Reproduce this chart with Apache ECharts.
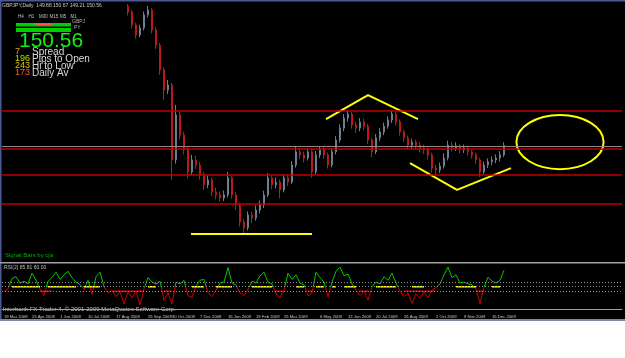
<!DOCTYPE html>
<html>
<head>
<meta charset="utf-8">
<script src="https://cdn.jsdelivr.net/npm/echarts@6/dist/echarts.min.js"></script>
<style>
  html, body { margin: 0; padding: 0; background: #fff; }
  #chart { width: 625px; height: 321px; }
</style>
</head>
<body>
<div id="chart"></div>
<script>
  // one slot = a few trading days
  var slotCount = 155
  var priceStart = 31

  // [open, close, low, high]
  var priceBars = [
    [200.5, 198.4, 197.2, 201.3], [198.4, 193.8, 192.5, 199.2], [193.8, 190.2, 188.9, 194.6],
    [190.2, 192.7, 189.4, 193.9], [192.7, 197.4, 191.8, 198.6], [197.4, 199.1, 196.5, 200.6],
    [199.1, 192.0, 190.8, 199.8], [192.0, 186.6, 185.2, 193.1], [186.6, 177.7, 175.9, 187.4],
    [177.7, 170.5, 166.9, 178.6], [170.5, 172.3, 169.1, 174.1], [172.3, 145.5, 138.3, 173.0],
    [145.5, 161.6, 144.2, 165.2], [161.6, 154.4, 152.9, 163.0], [154.4, 149.1, 147.4, 155.6],
    [149.1, 141.2, 139.0, 150.2], [141.2, 145.5, 140.1, 147.3], [145.5, 143.7, 142.2, 147.0],
    [143.7, 140.1, 138.5, 144.9], [140.1, 136.6, 134.8, 141.2], [136.6, 138.3, 135.4, 139.9],
    [138.3, 134.0, 132.6, 139.1], [134.0, 133.0, 131.4, 135.6], [133.0, 131.9, 130.6, 134.2],
    [131.9, 133.0, 130.8, 134.6], [133.0, 139.1, 132.1, 141.2], [139.1, 133.0, 131.6, 139.9],
    [133.0, 129.4, 127.6, 134.1], [129.4, 123.3, 121.7, 130.3], [123.3, 121.2, 118.7, 124.4],
    [121.2, 125.8, 120.3, 127.1], [125.8, 124.7, 122.9, 127.0], [124.7, 127.6, 123.8, 129.2],
    [127.6, 129.4, 126.4, 131.0], [129.4, 133.0, 128.3, 134.5], [133.0, 139.1, 132.2, 140.8],
    [139.1, 136.6, 135.1, 140.0], [136.6, 137.6, 135.3, 139.2], [137.6, 134.8, 131.8, 138.5],
    [134.8, 139.1, 133.9, 140.4], [139.1, 137.6, 136.2, 140.3], [137.6, 143.7, 136.9, 145.1],
    [143.7, 148.4, 142.8, 150.2], [148.4, 147.3, 145.8, 149.5], [147.3, 146.2, 144.6, 148.5],
    [146.2, 148.4, 145.3, 149.6], [148.4, 141.2, 139.1, 149.2], [141.2, 147.3, 140.4, 148.7],
    [147.3, 149.1, 146.2, 150.5], [149.1, 147.3, 145.9, 150.3], [147.3, 143.7, 142.4, 148.2],
    [143.7, 148.4, 142.9, 149.8], [148.4, 152.6, 147.5, 154.0], [152.6, 156.9, 151.7, 158.3],
    [156.9, 160.5, 155.8, 161.9], [160.5, 161.9, 159.2, 163.4], [161.9, 158.0, 156.7, 162.7],
    [158.0, 156.9, 155.2, 159.3], [156.9, 159.1, 155.8, 160.5], [159.1, 157.6, 156.1, 160.3],
    [157.6, 152.6, 151.1, 158.4], [152.6, 148.4, 146.5, 153.5], [148.4, 153.4, 147.6, 154.8],
    [153.4, 155.5, 152.3, 156.9], [155.5, 157.6, 154.4, 158.9], [157.6, 159.8, 156.7, 161.2],
    [159.8, 161.9, 158.7, 163.4], [161.9, 159.1, 157.8, 162.6], [159.1, 155.5, 154.2, 160.0],
    [155.5, 153.4, 151.9, 156.4], [153.4, 150.8, 149.4, 154.3], [150.8, 151.9, 149.6, 153.1],
    [151.9, 150.8, 149.2, 152.8], [150.8, 149.8, 148.3, 151.9], [149.8, 149.1, 147.6, 151.0],
    [149.1, 147.3, 145.6, 150.0], [147.3, 142.6, 141.0, 148.1], [142.6, 141.9, 140.1, 143.8],
    [141.9, 143.3, 140.8, 144.6], [143.3, 146.2, 142.4, 147.9], [146.2, 150.8, 145.3, 152.4],
    [150.8, 149.8, 148.5, 152.0], [149.8, 150.5, 148.7, 151.8], [150.5, 149.1, 147.8, 151.3],
    [149.1, 149.8, 148.0, 151.0], [149.8, 148.4, 147.1, 150.6], [148.4, 147.3, 145.9, 149.2],
    [147.3, 145.5, 144.0, 148.1], [145.5, 141.2, 139.4, 146.3], [141.2, 143.7, 140.5, 144.9],
    [143.7, 144.8, 142.6, 146.0], [144.8, 145.5, 143.6, 146.8], [145.5, 146.2, 144.3, 147.5],
    [146.2, 147.3, 145.0, 148.6], [147.3, 150.6, 146.6, 151.8]
  ]

  var rsiValues = [
    40, 45, 68, 72, 58, 62, 56, 80, 64, 45, 30, 62, 70, 82, 66, 76, 84, 70, 60, 55,
    44, 64, 33, 72, 82, 50, 36, 42, 28, 40, 12, 38, 25, 40, 10, 45, 70, 60, 56, 62,
    20, 36, 12, 60, 56, 64, 30, 26, 52, 64, 66, 36, 28, 42, 58, 60, 92, 58, 54, 36,
    30, 44, 62, 58, 74, 82, 60, 56, 34, 26, 42, 80, 66, 76, 58, 54, 30, 36, 82, 70,
    60, 27, 60, 84, 93, 74, 78, 56, 42, 30, 40, 20, 50, 60, 56, 72, 64, 80, 58, 40,
    28, 36, 13, 34, 24, 38, 26, 42, 48, 56, 76, 93, 70, 76, 58, 60, 56, 54, 45, 13,
    48, 71, 62, 58, 64, 86
  ]
  // slot spans of the flat signal bars
  var yellowSpans = [[2, 9], [11, 18], [20, 24], [36, 38], [47, 50], [53, 57], [62, 67], [73, 75],
    [78, 80], [82, 83], [85, 88], [93, 98], [102, 105], [113, 118], [122, 124]]
  var redSpans = [[9, 12], [27, 35], [40, 42], [68, 70], [76, 77], [89, 91], [100, 108], [118, 120]]
  var rsiLevels = [60, 50, 40]

  var resistanceLevels = [163.1, 149.4, 140.2, 129.9]
  var bidPrice = 150.56

  var dateLabels = ['19 Mar 2008', '23 Apr 2008', '1 Jun 2008', '10 Jul 2008', '17 Aug 2008', '25 Sep 2008',
    '30 Oct 2008', '7 Dec 2008', '16 Jan 2009', '19 Feb 2009', '25 Mar 2009', '6 May 2009', '12 Jun 2009',
    '20 Jul 2009', '26 Aug 2009', '2 Oct 2009', '9 Nov 2009', '16 Dec 2009']
  var dateSlots = [0, 7, 14, 21, 28, 36, 42, 49, 56, 63, 70, 79, 86, 93, 100, 108, 115, 122]

  // hand drawn objects, [slot, price]
  var floorLine = [[47.25, 119.0], [77.5, 119.0]]
  var roofLine = [[81, 160.1], [91.5, 168.7], [104, 160.1]]
  var vLine = [[102, 144.4], [113.75, 134.8], [127.25, 142.6]]
  var targetEllipse = [139.5, 151.9, 10.9, 9.7]

  var tfLabels = ['H4', 'H1', 'M30', 'M15', 'M5', 'M1']
  var statValues = ['7', '196', '243', '173']
  var statNames = ['Spread', 'Pips to Open', 'Hi to Low', 'Daily Av']
  var statColors = ['#e09028', '#b8e000', '#f0c000', '#f06018']

  var slots = []
  var labelMap = {}
  var candles = []
  var rsi = []
  var yellowBar = []
  var redBar = []
  for (var i = 0; i < slotCount; i++) {
    slots.push(String(i))
    var k = i - priceStart
    candles.push(k >= 0 && k < priceBars.length ? priceBars[k] : '-')
    rsi.push(i < rsiValues.length ? rsiValues[i] : '-')
    yellowBar.push('-')
    redBar.push('-')
  }
  dateSlots.forEach(function (s, j) { labelMap[s] = dateLabels[j] })
  yellowSpans.forEach(function (sp) { for (var s = sp[0]; s <= sp[1]; s++) yellowBar[s] = rsiLevels[1] })
  redSpans.forEach(function (sp) { for (var s = sp[0]; s <= sp[1]; s++) redBar[s] = rsiLevels[2] })

  var chart = echarts.init(document.getElementById('chart'))

  var smallFont = '"Liberation Sans Narrow", "Liberation Sans", sans-serif'
  var graphics = [
    { type: 'rect', shape: { x: 0, y: 0, width: 625, height: 1.5 }, style: { fill: '#4c5894' }, silent: true },
    { type: 'rect', shape: { x: 0, y: 0, width: 1.5, height: 321 }, style: { fill: '#4c5894' }, silent: true },
    { type: 'rect', shape: { x: 0, y: 262, width: 625, height: 1.5 }, style: { fill: '#a0a0a0' }, silent: true },
    { type: 'rect', shape: { x: 0, y: 319, width: 625, height: 2 }, style: { fill: '#8088a8' }, silent: true },
    { type: 'text', left: 2, top: 3, style: { text: 'GBPJPY,Daily  149.88 150.67 149.21 150.56', fill: '#c8c8c8', font: '5px ' + smallFont } },
    { type: 'rect', shape: { x: 16, y: 23, width: 55, height: 3.5 }, style: { fill: '#00d000' } },
    { type: 'rect', shape: { x: 35, y: 23.5, width: 16, height: 1.5 }, style: { fill: '#ff5050' } },
    { type: 'rect', shape: { x: 16, y: 28, width: 55, height: 4 }, style: { fill: '#00d000' } },
    { type: 'text', left: 72, top: 19, style: { text: 'GBPJ', fill: '#b0b0b0', font: '5px ' + smallFont } },
    { type: 'text', left: 74, top: 25, style: { text: 'PY', fill: '#b0b0b0', font: '5px ' + smallFont } },
    { type: 'text', left: 19, top: 31, style: { text: bidPrice.toFixed(2), fill: '#10f010', font: '21px "Liberation Sans"' } },
    { type: 'text', left: 5, top: 252, style: { text: 'Signal Bars by cja', fill: '#00b000', font: '6px "Liberation Sans"' } },
    { type: 'text', left: 4, top: 265, style: { text: 'RSI(2) 85.81 60.00', fill: '#c0c0c0', font: '5px ' + smallFont } },
    { type: 'text', left: 3, top: 306, style: { text: 'Interbank FX Trader 4, © 2001-2009 MetaQuotes Software Corp.', fill: '#c8c8c8', font: '6px "Liberation Sans"' } }
  ]
  tfLabels.forEach(function (t, j) {
    graphics.push({ type: 'text', left: 18 + j * 10.5, top: 14, style: { text: t, fill: '#c0c0c0', font: '4.5px ' + smallFont } })
  })
  statValues.forEach(function (v, j) {
    graphics.push({ type: 'text', left: 15, top: 47 + j * 7, style: { text: v, fill: statColors[j], font: '9px ' + smallFont } })
    graphics.push({ type: 'text', left: 32, top: 47 + j * 7, style: { text: statNames[j], fill: '#d8d8d8', font: '10px "Liberation Sans"' } })
  })

  function annotation(points) {
    return {
      type: 'line', xAxisIndex: 2, yAxisIndex: 0, data: points, symbol: 'none', silent: true,
      lineStyle: { color: '#ffff00', width: 2 }
    }
  }

  chart.setOption({
    backgroundColor: '#000',
    animation: false,
    grid: [
      { left: 2, right: 3, top: 2, height: 260 },
      { left: 2, right: 3, top: 264, height: 48 }
    ],
    xAxis: [
      { type: 'category', gridIndex: 0, data: slots, show: false },
      {
        type: 'category', gridIndex: 1, data: slots,
        axisLine: { lineStyle: { color: '#a0a0a0', width: 1 } },
        axisTick: {
          alignWithLabel: true, length: 3, lineStyle: { color: '#c0c0c0' },
          interval: function (idx) { return labelMap[idx] !== undefined }
        },
        axisLabel: {
          color: '#c8c8c8', fontSize: 4.2, fontFamily: smallFont, margin: 2.5, align: 'left',
          interval: function (idx) { return labelMap[idx] !== undefined },
          formatter: function (v, idx) { return labelMap[idx] || '' }
        }
      },
      { type: 'value', gridIndex: 0, min: 0, max: slotCount, show: false }
    ],
    yAxis: [
      { type: 'value', gridIndex: 0, min: 109, max: 202, show: false, splitLine: { show: false } },
      { type: 'value', gridIndex: 1, min: -6, max: 100, show: false, splitLine: { show: false } }
    ],
    visualMap: {
      show: false, type: 'piecewise', seriesIndex: 5, dimension: 1,
      pieces: [{ min: 50, max: 100, color: '#00c800' }, { min: -6, max: 50, color: '#d00000' }],
      outOfRange: { color: '#d00000' }
    },
    graphic: graphics,
    series: [
      {
        type: 'candlestick', xAxisIndex: 0, yAxisIndex: 0, data: candles, barWidth: 2,
        itemStyle: { color: '#6a7d99', color0: '#c01818', borderColor: '#6a7d99', borderColor0: '#c01818', borderWidth: 1 },
        markLine: {
          silent: true, symbol: 'none', label: { show: false },
          data: resistanceLevels.map(function (v) {
            return { yAxis: v, lineStyle: { color: '#c00000', width: 1.5, type: 'solid' } }
          }).concat([{ yAxis: bidPrice, lineStyle: { color: '#8a8a8a', width: 1, type: 'solid' } }])
        }
      },
      annotation(floorLine),
      annotation(roofLine),
      annotation(vLine),
      {
        type: 'custom', xAxisIndex: 2, yAxisIndex: 0, data: [targetEllipse], silent: true,
        renderItem: function (params, api) {
          var c = api.coord([api.value(0), api.value(1)])
          var e = api.coord([api.value(0) + api.value(2), api.value(1) - api.value(3)])
          return {
            type: 'ellipse',
            shape: { cx: c[0], cy: c[1], rx: e[0] - c[0], ry: e[1] - c[1] },
            style: { fill: 'none', stroke: '#ffff00', lineWidth: 2 }
          }
        }
      },
      {
        type: 'line', xAxisIndex: 1, yAxisIndex: 1, data: rsi, symbol: 'none', silent: true,
        lineStyle: { width: 1 },
        markLine: {
          silent: true, symbol: 'none', label: { show: false },
          data: rsiLevels.map(function (v) {
            return { yAxis: v, lineStyle: { color: '#909090', width: 1, type: [1, 2] } }
          })
        }
      },
      {
        type: 'line', xAxisIndex: 1, yAxisIndex: 1, data: yellowBar, symbol: 'none', silent: true,
        lineStyle: { color: '#ffff00', width: 1.5 }, z: 3
      },
      {
        type: 'line', xAxisIndex: 1, yAxisIndex: 1, data: redBar, symbol: 'none', silent: true,
        lineStyle: { color: '#d00000', width: 1.5 }, z: 3
      }
    ]
  })
</script>
</body>
</html>
